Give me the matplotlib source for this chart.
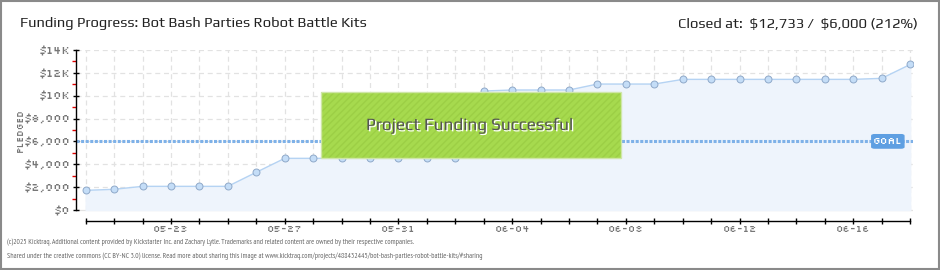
import matplotlib
matplotlib.use("Agg")
from matplotlib import pyplot as plt
from matplotlib.patches import Rectangle, FancyBboxPatch
import matplotlib.patheffects as pe
import pandas as pd
import numpy as np

# data
dates = pd.date_range("2025-05-20", "2025-06-18", freq="D")
pledged = [1720, 1810, 2070, 2070, 2070, 2070, 3300, 4520, 4520, 4520,
           4520, 4520, 4520, 4520, 10410, 10500, 10500, 10500, 11020, 11020,
           11020, 11430, 11430, 11430, 11430, 11430, 11430, 11430, 11520, 12733]
goal = 6000
ytick_vals = [0, 2000, 4000, 6000, 8000, 10000, 12000, 14000]
ytick_labels = ["$0", "$2,000", "$4,000", "$6,000", "$8,000", "$10K", "$12K", "$14K"]
xlabel_every = 4
xlabel_start = 3  # 05-23

HEAD = ["Play", "Saira Semi Condensed", "Exo 2", "DejaVu Sans"]
PIX = ["Silkscreen", "Pixelify Sans", "DejaVu Sans"]
SMALL = ["PT Sans Narrow", "Archivo Narrow", "Roboto Condensed", "DejaVu Sans"]
plt.rcParams['font.family'] = HEAD

fig = plt.figure(figsize=(9.4, 2.7), dpi=100)
fig.patch.set_facecolor("white")
# grey frame round the image
fig.add_artist(Rectangle((0.001, 0.002), 0.998, 0.996, transform=fig.transFigure,
                         fill=False, edgecolor="#8a8a8a", linewidth=1.5))

ax = fig.add_axes([76 / 940, (270 - 220.5) / 270, (913 - 76) / 940, (220.5 - 50) / 270])
x = np.arange(len(dates))

ax.set_xlim(-0.34, 29.1)
ax.set_ylim(-919, 14000)

# grid
for yv in ytick_vals[1:]:
    ax.axhline(yv, color="#e2e2e2", linestyle=(0, (4, 3)), linewidth=0.9, zorder=0)
ax.vlines(x, 0, 14000, color="#e2e2e2", linestyle=(0, (4, 3)), linewidth=0.9, zorder=0)
ax.axhline(0, color="#e2e2e2", linewidth=0.9, zorder=0)

# pledged series
ax.fill_between(x, pledged, 0, color="#eef4fc", zorder=1)
ax.plot(x, pledged, color="#b5d3f3", linewidth=1.0, zorder=3)
ax.plot(x, pledged, linestyle="none", marker="o", markersize=5,
        markerfacecolor="#c4ddf7", markeredgecolor="#8fa9c9", markeredgewidth=0.7, zorder=4)

# goal line
ax.plot([-0.34, 29.1], [goal, goal], color="#7eb1e8", linewidth=2.2,
        linestyle=(0, (1, 0.5)), solid_capstyle="butt", dash_capstyle="butt", zorder=2)
gb = FancyBboxPatch((27.65, 5420), 1.13, 1170, boxstyle="round,pad=0,rounding_size=0.1",
                    facecolor="#5e9fe2", edgecolor="#5e9fe2", mutation_aspect=1000, zorder=6)
ax.add_patch(gb)
ax.text(28.215, goal, "GOAL", color="white", fontsize=7.5, ha="center", va="center",
        family=PIX, zorder=7)

# funding successful banner
ax.add_patch(Rectangle((8.27, 4520), 18.82 - 8.27, 10300 - 4520, facecolor="#a6da4e",
                       edgecolor="#9ccf45", linewidth=0, hatch="/////", zorder=5))
ax.add_patch(Rectangle((8.27, 4520), 18.82 - 8.27, 10300 - 4520, fill=False,
                       edgecolor="#cfe6a8", linewidth=1.0, zorder=5))
ax.text(13.5, 7400, "Project Funding Successful", fontsize=12.4, color="#555555",
        ha="center", va="center", zorder=6,
        path_effects=[pe.withSimplePatchShadow(offset=(1, -1), shadow_rgbFace="white", alpha=1.0)])

# axes styling
for s in ["top", "right"]:
    ax.spines[s].set_visible(False)
ax.spines["left"].set_bounds(0, 14000)
ax.spines["bottom"].set_bounds(0, len(dates) - 1)
ax.spines["left"].set_linewidth(1.0)
ax.spines["bottom"].set_linewidth(1.0)

ax.set_yticks(ytick_vals)
ax.set_yticklabels(ytick_labels, family=PIX)
ax.set_yticks(np.arange(1000, 14000, 2000), minor=True)
ax.tick_params(axis="y", which="major", direction="inout", length=4, width=1, color="black",
               labelsize=8, labelcolor="#777777", pad=2)
ax.tick_params(axis="y", which="minor", direction="out", length=3, width=1, color="#e00000")

ax.set_xticks(x)
ax.set_xticklabels([d.strftime("%m-%d") if (i - xlabel_start) % xlabel_every == 0 else ""
                    for i, d in enumerate(dates)], family=PIX)
ax.tick_params(axis="x", direction="inout", length=4, width=1, color="black",
               labelsize=7, labelcolor="#777777", pad=2)

fig.text(20 / 940, 1 - 130 / 270, "PLEDGED", rotation=90, fontsize=6.5, color="#777777",
         ha="center", va="center", family=PIX)

# header
fig.text(20 / 940, 1 - 24 / 270, "Funding Progress: Bot Bash Parties Robot Battle Kits",
         fontsize=10.6, color="#222222", ha="left", va="center")
fig.text(918 / 940, 1 - 24 / 270, "Closed at:  \\$12,733 /  \\$6,000 (212%)",
         fontsize=10.6, color="#222222", ha="right", va="center")

# footer
fig.text(7 / 940, 1 - 242 / 270,
         "(c)2025 Kicktraq. Additional content provided by Kickstarter Inc. and Zachary Lytle. "
         "Trademarks and related content are owned by their respective companies.",
         fontsize=5.4, color="#666666", ha="left", va="center", family=SMALL)
fig.text(7 / 940, 1 - 256 / 270,
         "Shared under the creative commons (CC BY-NC 3.0) license. Read more about sharing this image at "
         "www.kicktraq.com/projects/488432445/bot-bash-parties-robot-battle-kits/#sharing",
         fontsize=5.4, color="#666666", ha="left", va="center", family=SMALL)

fig.savefig("out.png", dpi=100)
